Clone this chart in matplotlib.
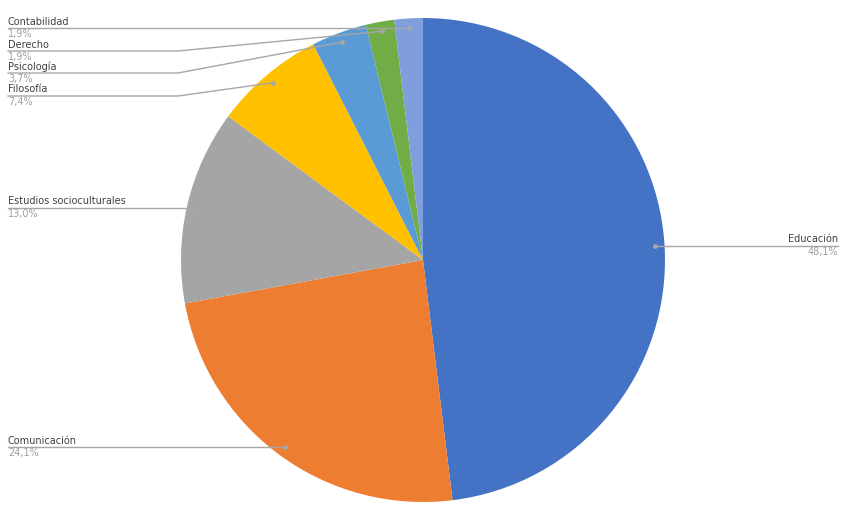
import numpy as np
import matplotlib.pyplot as plt

categorias = ['Educación', 'Comunicación', 'Estudios socioculturales', 'Filosofía',
              'Psicología', 'Derecho', 'Contabilidad']
porcentajes = [48.1, 24.1, 13.0, 7.4, 3.7, 1.9, 1.9]
etiquetas = ['48,1%', '24,1%', '13,0%', '7,4%', '3,7%', '1,9%', '1,9%']
colores = ['#4472C4', '#ED7D31', '#A5A5A5', '#FFC000', '#5B9BD5', '#70AD47', '#7F9EDB']

W, H = 851, 512
fig = plt.figure(figsize=(W / 100, H / 100), dpi=100)
ax = fig.add_axes([0, 0, 1, 1])

cx, cy, R = 423, H - 260, 242
wedges, _ = ax.pie(porcentajes, colors=colores, startangle=90, counterclock=False,
                   center=(cx, cy), radius=R, frame=True)
ax.set_xlim(0, W)
ax.set_ylim(0, H)
ax.set_aspect('equal')
ax.axis('off')

# label line heights (pixels from top) and side; None = same as dot
lineas = {
    'Educación': (None, 'right'),
    'Comunicación': (None, 'left'),
    'Estudios socioculturales': (None, 'left'),
    'Filosofía': (96, 'left'),
    'Psicología': (73, 'left'),
    'Derecho': (51, 'left'),
    'Contabilidad': (None, 'left'),
}
gris = '#A6A6A6'
for w, nombre, pct in zip(wedges, categorias, etiquetas):
    ang = np.deg2rad((w.theta1 + w.theta2) / 2)
    px = cx + 0.96 * R * np.cos(ang)
    py = cy + 0.96 * R * np.sin(ang)
    ly, lado = lineas[nombre]
    ly = py if ly is None else H - ly
    ax.plot([px], [py], 'o', color=gris, ms=2.5, zorder=3)
    if lado == 'right':
        xs = [px, 838]
        ys = [py, py]
        tx, ha = 838, 'right'
    else:
        if abs(ly - py) < 1:
            xs, ys = [px, 8], [py, py]
        else:
            xs, ys = [px, 178, 8], [py, ly, ly]
        tx, ha = 8, 'left'
    ax.plot(xs, ys, color=gris, lw=1, zorder=3)
    ax.text(tx, ly + 1.5, nombre, ha=ha, va='bottom', fontsize=7, color='#404040')
    ax.text(tx, ly - 1, pct, ha=ha, va='top', fontsize=7, color='#A0A0A0')

fig.savefig('out.png', dpi=100)
